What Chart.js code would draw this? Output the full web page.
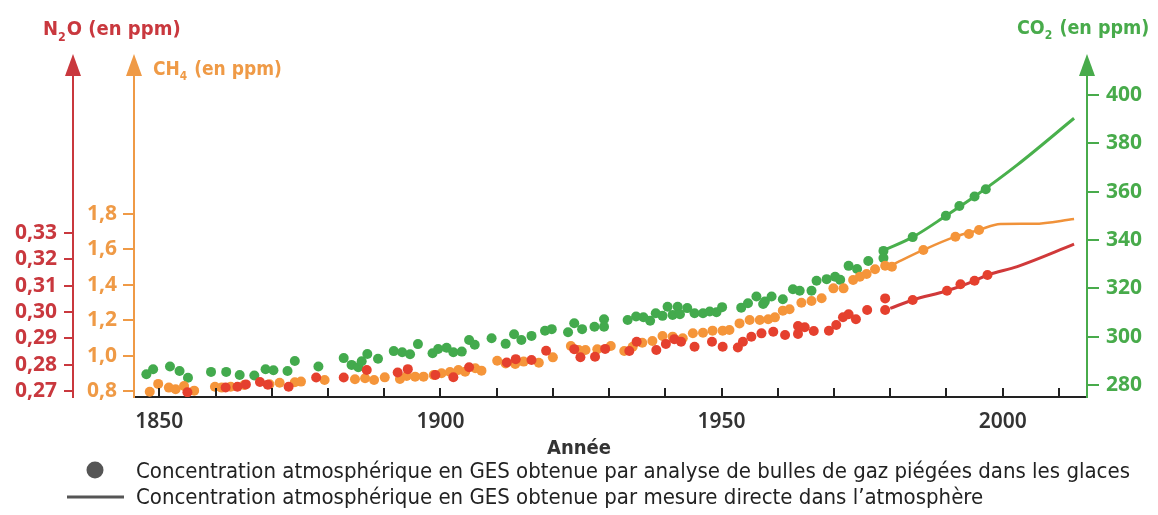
<!DOCTYPE html>
<html lang="fr">
<head>
<meta charset="utf-8">
<title>Concentration atmosphérique en GES</title>
<script src="https://cdn.jsdelivr.net/npm/chart.js@4.4.1/dist/chart.umd.min.js"></script>
<style>
  html, body { margin: 0; padding: 0; background: #fff; }
  #wrap { width: 1158px; height: 515px; position: relative; }
</style>
</head>
<body>
<div id="wrap"><canvas id="gesChart"></canvas></div>
<script>
// AXE X
const xTickYears = [1850, 1860, 1870, 1880, 1890, 1900, 1910, 1920, 1930, 1940, 1950, 1960, 1970, 1980, 1990, 2000, 2010];
const xLabelYears = [1850, 1900, 1950, 2000];

// GRADUATIONS DES AXES Y
const n2oTicks = [0.27, 0.28, 0.29, 0.30, 0.31, 0.32, 0.33];
const ch4Ticks = [0.8, 1.0, 1.2, 1.4, 1.6, 1.8];
const co2Ticks = [280, 300, 320, 340, 360, 380, 400];

// CO2 - bulles de gaz
const co2IceYears = [1847.7, 1848.9, 1851.9, 1853.6, 1855.1, 1859.2, 1861.9, 1864.3, 1866.9, 1868.9,
  1870.3, 1872.8, 1874.1, 1878.3, 1882.8, 1884.2, 1885.4, 1886.0, 1887.0, 1888.9,
  1891.7, 1893.2, 1894.6, 1896.0, 1898.6, 1899.6, 1901.1, 1902.3, 1903.8, 1905.1,
  1906.1, 1909.1, 1911.6, 1913.1, 1914.4, 1916.2, 1918.6, 1919.8, 1922.7, 1923.8,
  1925.2, 1927.4, 1929.1, 1929.1, 1933.3, 1934.8, 1936.1, 1937.3, 1938.3, 1939.5,
  1940.4, 1941.3, 1942.2, 1942.6, 1943.9, 1945.2, 1946.7, 1947.9, 1949.1, 1950.1,
  1953.5, 1954.7, 1956.2, 1957.4, 1957.7, 1958.9, 1960.9, 1962.7, 1963.9, 1966.0,
  1966.9, 1968.7, 1970.2, 1971.1, 1972.6, 1974.1, 1976.1, 1978.8, 1978.8, 1984.0,
  1989.9, 1992.3, 1995.0, 1997.0];
const co2IceValues = [284.4, 286.5, 287.6, 285.8, 283.0, 285.4, 285.4, 284.1, 283.9, 286.5,
  286.1, 285.8, 289.9, 287.6, 291.1, 288.3, 287.3, 289.8, 292.8, 290.8,
  294.0, 293.5, 292.7, 296.9, 293.1, 294.9, 295.4, 293.5, 293.8, 298.6,
  296.6, 299.3, 297.0, 301.0, 298.6, 300.3, 302.4, 303.1, 301.8, 305.5,
  303.1, 304.1, 307.2, 304.1, 306.9, 308.3, 308.0, 306.6, 309.7, 308.6,
  312.4, 309.0, 312.4, 309.3, 311.8, 309.7, 309.7, 310.4, 310.1, 312.2,
  312.0, 313.8, 316.6, 313.5, 314.5, 316.6, 315.5, 319.6, 319.0, 319.0,
  323.1, 323.8, 324.8, 323.5, 329.3, 328.0, 331.3, 335.5, 332.5, 341.2,
  350.0, 354.1, 358.0, 361.0];
// CO2 - mesure directe
const co2AirYears = [1979.0, 1984.0, 1989.9, 1995.0, 2002.6, 2012.7];
const co2AirValues = [335.9, 341.2, 350.0, 358.0, 371.1, 390.4];

// CH4 - bulles de gaz
const ch4IceYears = [1848.3, 1849.8, 1851.7, 1852.9, 1854.4, 1856.2, 1859.9, 1861.1, 1862.7, 1865.1,
  1869.6, 1871.4, 1874.1, 1875.2, 1879.4, 1884.8, 1886.6, 1888.2, 1890.1, 1892.8,
  1894.0, 1895.5, 1897.0, 1898.8, 1900.2, 1901.7, 1903.2, 1904.4, 1906.2, 1907.3,
  1910.1, 1911.6, 1913.3, 1914.8, 1917.5, 1920.0, 1923.2, 1924.6, 1925.8, 1927.9,
  1930.3, 1932.7, 1934.2, 1935.9, 1937.7, 1939.5, 1941.3, 1943.1, 1944.9, 1946.7,
  1948.4, 1950.2, 1951.4, 1953.2, 1955.0, 1956.8, 1958.3, 1959.5, 1960.9, 1962.1,
  1964.2, 1966.0, 1967.8, 1969.9, 1971.7, 1973.4, 1974.6, 1975.8, 1977.3, 1979.1,
  1980.3, 1985.9, 1991.6, 1994.0, 1995.8];
const ch4IceValues = [0.796, 0.840, 0.819, 0.810, 0.828, 0.802, 0.824, 0.819, 0.824, 0.834,
  0.838, 0.847, 0.849, 0.853, 0.862, 0.866, 0.872, 0.862, 0.877, 0.868,
  0.885, 0.881, 0.881, 0.890, 0.900, 0.907, 0.919, 0.909, 0.928, 0.915,
  0.971, 0.956, 0.953, 0.966, 0.960, 0.990, 1.054, 1.032, 1.032, 1.036,
  1.054, 1.026, 1.050, 1.073, 1.082, 1.111, 1.107, 1.098, 1.126, 1.129,
  1.141, 1.141, 1.145, 1.182, 1.201, 1.201, 1.205, 1.216, 1.254, 1.262,
  1.299, 1.308, 1.324, 1.380, 1.380, 1.427, 1.446, 1.461, 1.488, 1.508,
  1.502, 1.597, 1.672, 1.687, 1.710];
// CH4 - mesure directe
const ch4AirYears = [1980.3, 1985.9, 1991.6, 1995.8, 1999.6, 2005.6, 2012.7];
const ch4AirValues = [1.512, 1.597, 1.672, 1.710, 1.744, 1.745, 1.772];

// N2O - bulles de gaz
const n2oIceYears = [1855.0, 1861.8, 1863.9, 1865.4, 1867.9, 1869.3, 1873.0, 1877.9, 1882.8, 1886.9,
  1892.4, 1894.2, 1899.1, 1902.3, 1905.1, 1911.8, 1913.4, 1916.2, 1918.8, 1923.8,
  1924.9, 1927.5, 1929.3, 1933.6, 1934.9, 1938.4, 1940.1, 1941.6, 1942.8, 1945.2,
  1948.3, 1950.2, 1952.9, 1953.8, 1955.3, 1957.1, 1959.2, 1961.3, 1963.6, 1963.6,
  1964.8, 1966.4, 1969.1, 1970.4, 1971.6, 1972.6, 1973.9, 1975.9, 1979.1, 1979.1,
  1984.0, 1990.1, 1992.5, 1995.0, 1997.3];
const n2oIceValues = [0.2695, 0.2713, 0.2716, 0.2725, 0.2734, 0.2724, 0.2716, 0.2751, 0.2751, 0.2780,
  0.2770, 0.2783, 0.2761, 0.2752, 0.2790, 0.2808, 0.2821, 0.2818, 0.2853, 0.2859,
  0.2828, 0.2830, 0.2860, 0.2852, 0.2887, 0.2856, 0.2879, 0.2897, 0.2887, 0.2868,
  0.2887, 0.2868, 0.2865, 0.2887, 0.2906, 0.2919, 0.2925, 0.2913, 0.2947, 0.2917,
  0.2942, 0.2928, 0.2929, 0.2951, 0.2980, 0.2992, 0.2973, 0.3008, 0.3052, 0.3008,
  0.3046, 0.3081, 0.3106, 0.3119, 0.3141];
// N2O - mesure directe
const n2oAirYears = [1980.0, 1984.0, 1990.1, 1995.0, 1997.3, 2002.6, 2012.7];
const n2oAirValues = [0.3014, 0.3046, 0.3081, 0.3119, 0.3141, 0.3173, 0.3258];

// COULEURS
const RED = '#c9383e', RED_DOT = '#e5402e';
const ORANGE = '#ef9a46', ORANGE_DOT = '#f5953a';
const GREEN = '#48ab4b', GREEN_DOT = '#43aa4d';

const TICK_FONT = "'Noto Sans', sans-serif";
const COND_FONT = "'DejaVu Sans Condensed', 'Liberation Sans Narrow', sans-serif";

const pts = (xs, ys) => xs.map((x, i) => ({ x: x, y: ys[i] }));
const setTicks = list => scale => { scale.ticks = list.map(v => ({ value: v })); };

function dots(data, color, axis) {
    return { data: data, yAxisID: axis, showLine: false, pointRadius: 5, pointHoverRadius: 5,
        pointBackgroundColor: color, pointBorderWidth: 0 };
}
function line(data, color, axis, width) {
    return { data: data, yAxisID: axis, showLine: true, pointRadius: 0, borderColor: color,
        borderWidth: width, tension: 0.3, cubicInterpolationMode: 'monotone', fill: false };
}

// texte avec indice (N2O, CH4, CO2)
function formula(ctx, x, y, parts, size, color) {
    ctx.fillStyle = color;
    ctx.textBaseline = 'alphabetic';
    ctx.textAlign = 'left';
    parts.forEach(p => {
        const sub = p[1];
        ctx.font = 'bold ' + (sub ? size * 0.62 : size) + 'px ' + COND_FONT;
        ctx.fillText(p[0], x, sub ? y + size * 0.28 : y);
        x += ctx.measureText(p[0]).width + (sub ? 1 : 0);
    });
}

const decor = {
    id: 'decor',
    afterDraw(chart) {
        const ctx = chart.ctx;
        const area = chart.chartArea;
        const top = area.top;
        ctx.save();
        // petites graduations de l'axe x (vers le haut)
        const xs = chart.scales.x;
        ctx.strokeStyle = '#222';
        ctx.lineWidth = 2;
        xTickYears.forEach(v => {
            const px = Math.round(xs.getPixelForValue(v));
            ctx.beginPath();
            ctx.moveTo(px, area.bottom);
            ctx.lineTo(px, area.bottom - 9);
            ctx.stroke();
        });
        // fleches en haut des axes
        [['n2o', RED], ['ch4', ORANGE], ['co2', GREEN]].forEach(a => {
            const s = chart.scales[a[0]];
            const x = s.position === 'left' ? s.right : s.left;
            ctx.fillStyle = a[1];
            ctx.beginPath();
            ctx.moveTo(x, top - 8);
            ctx.lineTo(x - 8, top + 14);
            ctx.lineTo(x + 8, top + 14);
            ctx.closePath();
            ctx.fill();
        });
        // titres des axes
        formula(ctx, 43, 35, [['N', false], ['2', true], ['O (en ppm)', false]], 20, RED);
        formula(ctx, 153, 75, [['CH', false], ['4', true], [' (en ppm)', false]], 19, ORANGE);
        formula(ctx, 1017, 34, [['CO', false], ['2', true], [' (en ppm)', false]], 19.5, GREEN);

        // titre axe x
        ctx.fillStyle = '#333';
        ctx.font = 'bold 20px ' + COND_FONT;
        ctx.textAlign = 'center';
        ctx.fillText('Année', 579, 454);

        // legende
        ctx.fillStyle = '#555';
        ctx.beginPath();
        ctx.arc(95, 470, 8.5, 0, Math.PI * 2);
        ctx.fill();
        ctx.strokeStyle = '#555';
        ctx.lineWidth = 3;
        ctx.beginPath();
        ctx.moveTo(67, 497);
        ctx.lineTo(124, 497);
        ctx.stroke();
        ctx.fillStyle = '#222';
        ctx.font = '22px ' + COND_FONT;
        ctx.textAlign = 'left';
        ctx.fillText('Concentration atmosphérique en GES obtenue par analyse de bulles de gaz piégées dans les glaces', 136, 478);
        ctx.fillText('Concentration atmosphérique en GES obtenue par mesure directe dans l\u2019atmosphère', 136, 504);
        ctx.restore();
    }
};

const ctx = document.getElementById('gesChart').getContext('2d');
const gesChart = new Chart(ctx, {
    type: 'scatter',
    data: {
        datasets: [
            dots(pts(n2oIceYears, n2oIceValues), RED_DOT, 'n2o'),
            line(pts(n2oAirYears, n2oAirValues), '#d0393a', 'n2o', 3),
            dots(pts(ch4IceYears, ch4IceValues), ORANGE_DOT, 'ch4'),
            line(pts(ch4AirYears, ch4AirValues), '#f0923a', 'ch4', 2.5),
            dots(pts(co2IceYears, co2IceValues), GREEN_DOT, 'co2'),
            line(pts(co2AirYears, co2AirValues), '#49b04c', 'co2', 3)
        ]
    },
    options: {
        responsive: true,
        maintainAspectRatio: false,
        animation: false,
        layout: { padding: { left: 0, right: 0, top: 62, bottom: 56 } },
        plugins: { legend: { display: false }, tooltip: { enabled: false } },
        scales: {
            x: {
                type: 'linear', position: 'bottom', min: 1845.5, max: 2015,
                afterBuildTicks: setTicks(xTickYears),
                afterFit: s => { s.height = 62; },
                ticks: {
                    autoSkip: false, maxRotation: 0, padding: 12, color: '#333',
                    font: { family: TICK_FONT, size: 21, weight: '600' },
                    callback: v => xLabelYears.includes(v) ? String(v) : ''
                },
                grid: { drawOnChartArea: false, drawTicks: false },
                border: { color: '#222', width: 2 }
            },
            n2o: {
                type: 'linear', position: 'left', weight: 2, min: 0.2677, max: 0.3951,
                afterBuildTicks: setTicks(n2oTicks),
                afterFit: s => { s.width = 73; },
                ticks: {
                    padding: 7, color: RED, font: { family: TICK_FONT, size: 21, weight: 'bold' },
                    callback: v => v.toFixed(2).replace('.', ',')
                },
                grid: { drawOnChartArea: false, tickLength: 9, color: RED, lineWidth: 2 },
                border: { color: RED, width: 2 }
            },
            ch4: {
                type: 'linear', position: 'left', weight: 1, min: 0.766, max: 2.659,
                afterBuildTicks: setTicks(ch4Ticks),
                afterFit: s => { s.width = 61; },
                ticks: {
                    padding: 6, color: ORANGE, font: { family: TICK_FONT, size: 21, weight: 'bold' },
                    callback: v => v.toFixed(1).replace('.', ',')
                },
                grid: { drawOnChartArea: false, tickLength: 11, color: ORANGE, lineWidth: 2 },
                border: { color: ORANGE, width: 2 }
            },
            co2: {
                type: 'linear', position: 'right', min: 275, max: 413.7,
                afterBuildTicks: setTicks(co2Ticks),
                afterFit: s => { s.width = 71; },
                ticks: {
                    padding: 7, color: GREEN, font: { family: TICK_FONT, size: 21, weight: 'bold' },
                    callback: v => String(v)
                },
                grid: { drawOnChartArea: false, tickLength: 12, color: GREEN, lineWidth: 2 },
                border: { color: GREEN, width: 2 }
            }
        }
    },
    plugins: [decor]
});
</script>
</body>
</html>
